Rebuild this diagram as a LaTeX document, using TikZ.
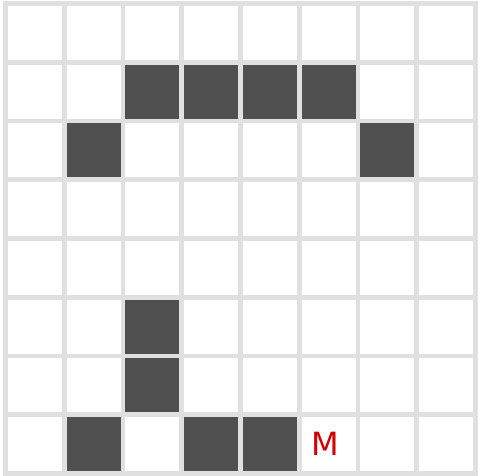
\documentclass[tikz,border=0pt]{standalone}
\usepackage{fontspec}
\newfontfamily\labelfont{DejaVu Sans}
\usetikzlibrary{positioning}

\definecolor{wallgray}{RGB}{80,80,80}
\definecolor{linegray}{RGB}{224,224,224}
\definecolor{markred}{RGB}{210,0,0}

\begin{document}
\begin{tikzpicture}[
  wall/.style={fill=wallgray, rounded corners=0.5pt},
  gridline/.style={draw=linegray, line width=2.4pt, line cap=rect},
  goal/.style={text=markred, inner sep=0pt, font=\labelfont\fontsize{15.5}{16}\selectfont}
]
  \useasboundingbox[fill=white] (-0.094,-0.034) rectangle (8.043,8.060);
  % blocked cells, given as column/row counted from the top left
  \foreach \c/\r in {2/1,3/1,4/1,5/1,1/2,6/2,2/5,2/6,1/7,3/7,4/7}
    \fill[wall] (\c,7-\r) rectangle ++(1,1);
  \draw[gridline] (0,0) grid (8,8);
  \node[goal] (m) at (5.45,0.5) {M};
\end{tikzpicture}
\end{document}
